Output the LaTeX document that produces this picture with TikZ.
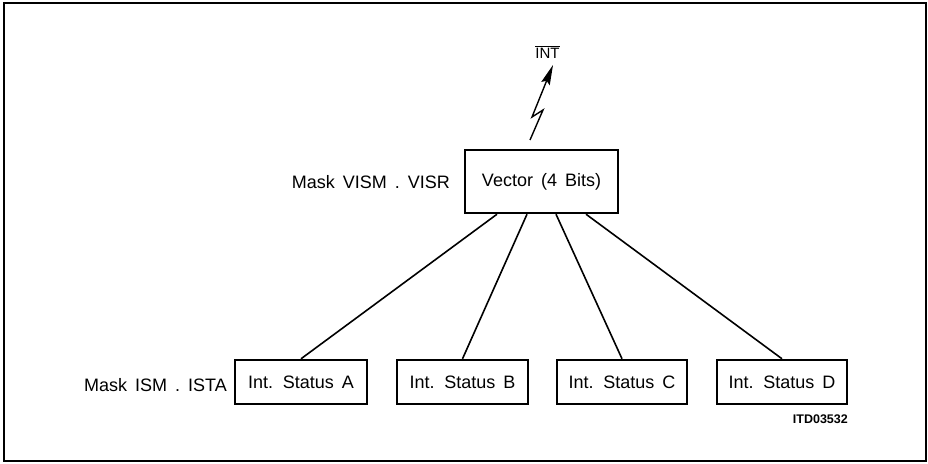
\documentclass[tikz,border=0pt]{standalone}
\usepackage{fontspec}
\setmainfont{Liberation Sans}[WordSpace=1.6]
\usetikzlibrary{arrows.meta}
\begin{document}
\begin{tikzpicture}[x=1pt,y=-1pt,
  box/.style={draw,line width=2.4pt,inner sep=0pt,font=\fontsize{18}{20}\selectfont},
  lbl/.style={inner sep=0pt,font=\fontsize{18}{20}\selectfont},
  conn/.style={line width=1.6pt}]
\useasboundingbox (0,0) rectangle (928,463);
\draw[line width=2pt] (4,3) rectangle (926,461);
\node[box,minimum width=153pt,minimum height=63pt] (vec) at (541.5,181.5) {Vector (4 Bits)};
\node[box,minimum width=132pt,minimum height=44pt] (a) at (301,382) {Int. Status A};
\node[box,minimum width=131pt,minimum height=44pt] (b) at (462.5,382) {Int. Status B};
\node[box,minimum width=130pt,minimum height=44pt] (c) at (622,382) {Int. Status C};
\node[box,minimum width=130pt,minimum height=44pt] (d) at (782,382) {Int. Status D};
\node[lbl,anchor=east] (mv) at (450,182) {Mask VISM . VISR};
\node[lbl,anchor=east] (ma) at (227,385) {Mask ISM . ISTA};
\node[inner sep=0pt,anchor=east,font=\fontsize{12.5}{14}\selectfont\bfseries] (itd) at (848,419) {ITD03532};
\node[inner sep=0pt,font=\fontsize{15}{16}\selectfont] (int) at (547.5,52) {$\overline{\mbox{INT}}$};
\draw[conn] ([xshift=-44.5pt]vec.south) -- (a.north);
\draw[conn] ([xshift=-14.5pt]vec.south) -- (b.north);
\draw[conn] ([xshift=14.5pt]vec.south) -- (c.north);
\draw[conn] ([xshift=44.5pt]vec.south) -- (d.north);
\coordinate (l0) at (530,140);
\coordinate (l1) at (543,110);
\coordinate (l2) at (532,117);
\coordinate (l3) at (553,65);
\draw[line width=1.4pt,line join=miter,-{Stealth[length=20pt,width=9pt,inset=3pt]}] (l0) -- (l1) -- (l2) -- (l3);
\end{tikzpicture}
\end{document}
